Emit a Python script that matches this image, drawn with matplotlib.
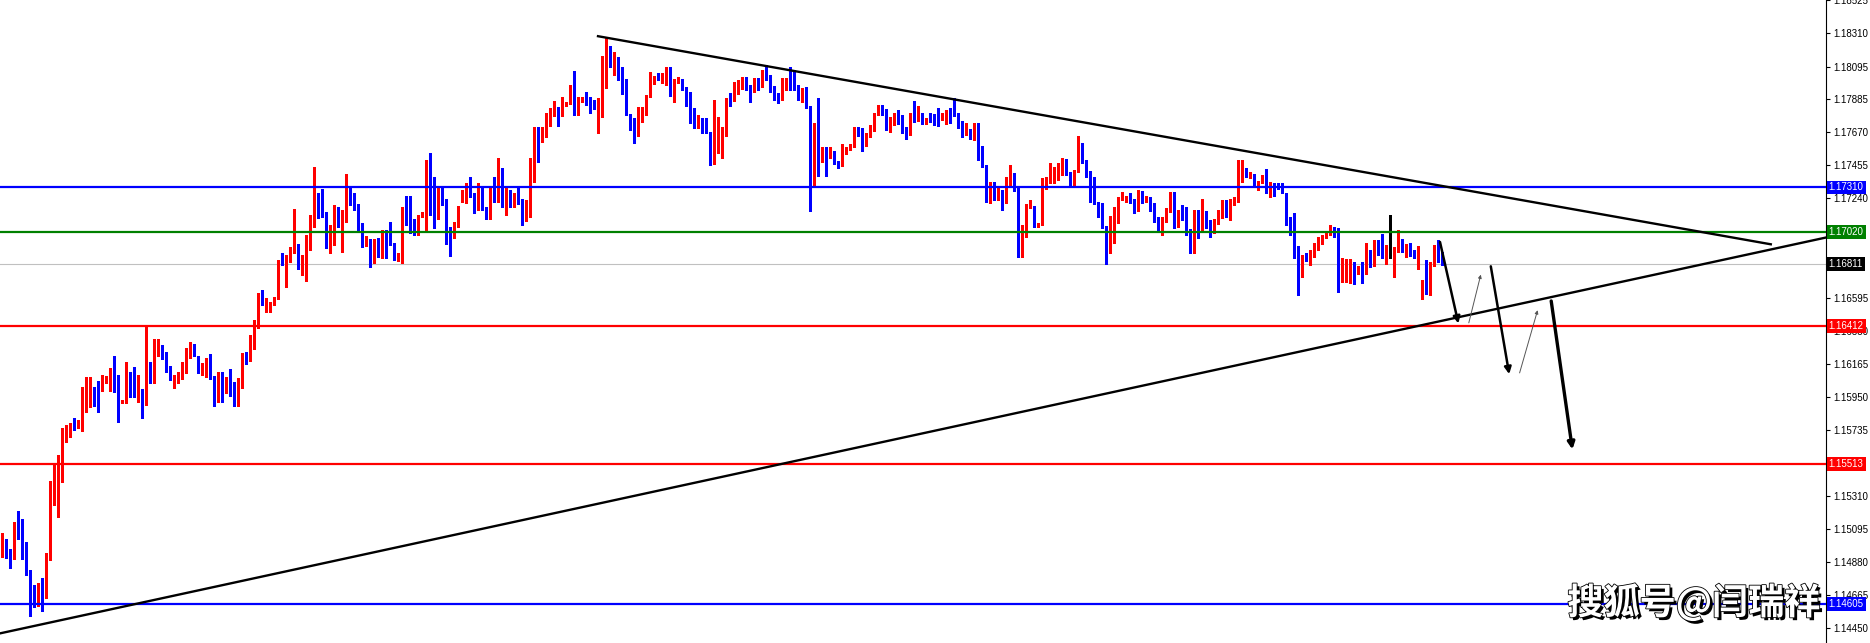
import numpy as np
import matplotlib
matplotlib.use('Agg')
import matplotlib.pyplot as plt
import matplotlib.patheffects as pe

# hourly OHLC bars (oldest first)
opens = [
    1.14910, 1.14995, 1.14936, 1.14897, 1.15131, 1.15072, 1.14975, 1.14806, 1.14709, 1.14612,
    1.14722, 1.14670, 1.14891, 1.15306, 1.15377, 1.15442, 1.15689, 1.15721, 1.15786, 1.15760,
    1.15760, 1.15929, 1.15948, 1.15987, 1.15987, 1.15987, 1.16046, 1.16052, 1.16104, 1.16046,
    1.15916, 1.15916, 1.16091, 1.16078, 1.15916, 1.16000, 1.15910, 1.16169, 1.16059, 1.16234,
    1.16254, 1.16234, 1.16117, 1.16007, 1.16059, 1.16065, 1.16111, 1.16234, 1.16280, 1.16195,
    1.16104, 1.16130, 1.16214, 1.16065, 1.15981, 1.16098, 1.15987, 1.16026, 1.15987, 1.15916,
    1.16007, 1.16202, 1.16182, 1.16293, 1.16416, 1.16604, 1.16572, 1.16539, 1.16546, 1.16585,
    1.16825, 1.16805, 1.16844, 1.16896, 1.16935, 1.16792, 1.16838, 1.16981, 1.17084, 1.17266,
    1.17240, 1.17143, 1.16935, 1.17058, 1.17175, 1.17071, 1.17156, 1.17286, 1.17240, 1.17195,
    1.17039, 1.16929, 1.16942, 1.16818, 1.16929, 1.16903, 1.17006, 1.16994, 1.16948, 1.16838,
    1.16883, 1.17188, 1.17143, 1.17097, 1.17078, 1.17123, 1.17130, 1.17461, 1.17272, 1.17175,
    1.17227, 1.17214, 1.17013, 1.16987, 1.17052, 1.17272, 1.17286, 1.17299, 1.17260, 1.17169,
    1.17195, 1.17182, 1.17104, 1.17292, 1.17247, 1.17422, 1.17182, 1.17286, 1.17182, 1.17240,
    1.17221, 1.17117, 1.17208, 1.17369, 1.17694, 1.17616, 1.17643, 1.17740, 1.17779, 1.17824,
    1.17779, 1.17843, 1.17856, 1.17966, 1.17791, 1.17863, 1.17888, 1.17856, 1.17843, 1.17791,
    1.17830, 1.18024, 1.18128, 1.18096, 1.18128, 1.18031, 1.18011, 1.17785, 1.17753, 1.17643,
    1.17798, 1.17791, 1.17895, 1.17986, 1.18024, 1.18011, 1.18037, 1.18070, 1.17921, 1.17998,
    1.17992, 1.17953, 1.17856, 1.17804, 1.17727, 1.17746, 1.17694, 1.17668, 1.17480, 1.17558,
    1.17590, 1.17649, 1.17888, 1.17876, 1.17947, 1.17986, 1.18011, 1.17966, 1.17940, 1.18011,
    1.17960, 1.18096, 1.18031, 1.17960, 1.17908, 1.17882, 1.17940, 1.18070, 1.18005, 1.17973,
    1.17908, 1.17921, 1.17830, 1.17369, 1.17720, 1.17512, 1.17564, 1.17506, 1.17538, 1.17480,
    1.17461, 1.17558, 1.17564, 1.17577, 1.17688, 1.17681, 1.17577, 1.17636, 1.17688, 1.17785,
    1.17837, 1.17798, 1.17681, 1.17720, 1.17772, 1.17772, 1.17694, 1.17649, 1.17791, 1.17746,
    1.17779, 1.17727, 1.17785, 1.17785, 1.17746, 1.17759, 1.17766, 1.17798, 1.17791, 1.17791,
    1.17707, 1.17662, 1.17681, 1.17623, 1.17707, 1.17558, 1.17448, 1.17227, 1.17331, 1.17247,
    1.17286, 1.17208, 1.17324, 1.17389, 1.17292, 1.16929, 1.17052, 1.17175, 1.17182, 1.17058,
    1.17065, 1.17337, 1.17344, 1.17356, 1.17369, 1.17402, 1.17441, 1.17402, 1.17337, 1.17415,
    1.17597, 1.17480, 1.17415, 1.17272, 1.17208, 1.17201, 1.17052, 1.16916, 1.17078, 1.17078,
    1.17227, 1.17227, 1.17247, 1.17227, 1.17162, 1.17279, 1.17227, 1.17240, 1.17195, 1.17110,
    1.17026, 1.17097, 1.17162, 1.17253, 1.17058, 1.17182, 1.17123, 1.17032, 1.16896, 1.17156,
    1.17026, 1.17143, 1.17084, 1.17019, 1.17084, 1.17117, 1.17182, 1.17149, 1.17208, 1.17227,
    1.17369, 1.17422, 1.17376, 1.17389, 1.17324, 1.17337, 1.17382, 1.17260, 1.17324, 1.17324,
    1.17305, 1.17272, 1.17110, 1.17019, 1.16922, 1.16792, 1.16864, 1.16838, 1.16864, 1.16922,
    1.16948, 1.16987, 1.17013, 1.17045, 1.17013, 1.16733, 1.16733, 1.16753, 1.16811, 1.16753,
    1.16773, 1.16753, 1.16890, 1.16805, 1.16942, 1.16929, 1.16877, 1.16870, 1.16870, 1.16903,
    1.16948, 1.16883, 1.16929, 1.16877, 1.16864, 1.16585, 1.16669, 1.16617, 1.16805, 1.16929,
    1.16870,
]
highs = [
    1.15066, 1.15027, 1.14962, 1.15137, 1.15209, 1.15157, 1.15008, 1.14826, 1.14729, 1.14742,
    1.14774, 1.14936, 1.15403, 1.15507, 1.15572, 1.15747, 1.15767, 1.15780, 1.15812, 1.15799,
    1.16013, 1.16078, 1.16078, 1.16013, 1.16052, 1.16091, 1.16085, 1.16137, 1.16214, 1.16091,
    1.15929, 1.16176, 1.16111, 1.16143, 1.16091, 1.16000, 1.16416, 1.16176, 1.16325, 1.16325,
    1.16286, 1.16241, 1.16150, 1.16091, 1.16111, 1.16176, 1.16267, 1.16306, 1.16293, 1.16214,
    1.16169, 1.16202, 1.16228, 1.16085, 1.16111, 1.16111, 1.16078, 1.16130, 1.16046, 1.16072,
    1.16234, 1.16241, 1.16351, 1.16448, 1.16624, 1.16643, 1.16591, 1.16565, 1.16598, 1.16838,
    1.16883, 1.16870, 1.16922, 1.17169, 1.16942, 1.16870, 1.17000, 1.17130, 1.17441, 1.17272,
    1.17299, 1.17149, 1.17065, 1.17195, 1.17182, 1.17162, 1.17396, 1.17311, 1.17272, 1.17201,
    1.17078, 1.16994, 1.16974, 1.16974, 1.16981, 1.17032, 1.17032, 1.17084, 1.16948, 1.16883,
    1.17182, 1.17253, 1.17253, 1.17104, 1.17130, 1.17149, 1.17487, 1.17532, 1.17376, 1.17305,
    1.17305, 1.17234, 1.17052, 1.17084, 1.17188, 1.17292, 1.17337, 1.17376, 1.17272, 1.17337,
    1.17305, 1.17182, 1.17305, 1.17376, 1.17500, 1.17435, 1.17305, 1.17292, 1.17272, 1.17305,
    1.17234, 1.17227, 1.17500, 1.17701, 1.17701, 1.17701, 1.17791, 1.17824, 1.17869, 1.17830,
    1.17895, 1.17863, 1.17973, 1.18063, 1.17895, 1.17895, 1.17927, 1.17895, 1.17876, 1.17888,
    1.18161, 1.18284, 1.18226, 1.18187, 1.18154, 1.18089, 1.18011, 1.17785, 1.17759, 1.17830,
    1.17830, 1.17908, 1.18057, 1.18031, 1.18050, 1.18050, 1.18089, 1.18089, 1.18011, 1.18024,
    1.18011, 1.17960, 1.17927, 1.17824, 1.17779, 1.17759, 1.17759, 1.17668, 1.17876, 1.17766,
    1.17701, 1.17888, 1.17921, 1.17992, 1.18005, 1.18024, 1.18024, 1.17973, 1.18018, 1.18018,
    1.18070, 1.18102, 1.18037, 1.17966, 1.17921, 1.18018, 1.18018, 1.18089, 1.18070, 1.17973,
    1.17953, 1.17960, 1.17837, 1.17727, 1.17888, 1.17571, 1.17571, 1.17571, 1.17545, 1.17480,
    1.17590, 1.17571, 1.17590, 1.17701, 1.17701, 1.17694, 1.17662, 1.17714, 1.17791, 1.17843,
    1.17843, 1.17817, 1.17766, 1.17791, 1.17811, 1.17779, 1.17701, 1.17791, 1.17869, 1.17837,
    1.17791, 1.17759, 1.17791, 1.17785, 1.17824, 1.17791, 1.17811, 1.17824, 1.17888, 1.17791,
    1.17740, 1.17727, 1.17688, 1.17727, 1.17727, 1.17577, 1.17454, 1.17344, 1.17344, 1.17311,
    1.17292, 1.17376, 1.17454, 1.17402, 1.17305, 1.17065, 1.17201, 1.17227, 1.17188, 1.17078,
    1.17369, 1.17376, 1.17467, 1.17441, 1.17467, 1.17500, 1.17493, 1.17408, 1.17421, 1.17643,
    1.17597, 1.17487, 1.17415, 1.17376, 1.17214, 1.17208, 1.17058, 1.17123, 1.17182, 1.17247,
    1.17279, 1.17253, 1.17272, 1.17234, 1.17292, 1.17286, 1.17253, 1.17247, 1.17208, 1.17117,
    1.17117, 1.17175, 1.17279, 1.17279, 1.17162, 1.17195, 1.17182, 1.17039, 1.17162, 1.17162,
    1.17234, 1.17156, 1.17097, 1.17104, 1.17162, 1.17227, 1.17227, 1.17234, 1.17247, 1.17487,
    1.17487, 1.17435, 1.17408, 1.17396, 1.17350, 1.17389, 1.17428, 1.17344, 1.17337, 1.17337,
    1.17337, 1.17272, 1.17117, 1.17143, 1.16929, 1.16870, 1.16883, 1.16903, 1.16948, 1.16987,
    1.17000, 1.17019, 1.17065, 1.17052, 1.17045, 1.16851, 1.16844, 1.16844, 1.16825, 1.16799,
    1.16825, 1.16948, 1.16903, 1.16968, 1.16968, 1.17006, 1.16935, 1.17130, 1.16922, 1.17032,
    1.16974, 1.16942, 1.16948, 1.16903, 1.16929, 1.16708, 1.16838, 1.16825, 1.16935, 1.16968,
    1.16890,
]
lows = [
    1.14910, 1.14904, 1.14839, 1.14897, 1.15027, 1.14897, 1.14793, 1.14527, 1.14586, 1.14592,
    1.14560, 1.14644, 1.14891, 1.15248, 1.15170, 1.15397, 1.15656, 1.15689, 1.15734, 1.15747,
    1.15728, 1.15851, 1.15884, 1.15890, 1.15851, 1.15987, 1.16039, 1.15987, 1.15981, 1.15786,
    1.15910, 1.15910, 1.15948, 1.15948, 1.15916, 1.15812, 1.15897, 1.16039, 1.16039, 1.16214,
    1.16195, 1.16111, 1.16059, 1.16007, 1.16039, 1.16065, 1.16104, 1.16202, 1.16214, 1.16104,
    1.16091, 1.16078, 1.16065, 1.15890, 1.15916, 1.15916, 1.15974, 1.15955, 1.15890, 1.15890,
    1.16007, 1.16163, 1.16182, 1.16260, 1.16396, 1.16546, 1.16500, 1.16500, 1.16546, 1.16585,
    1.16805, 1.16663, 1.16825, 1.16883, 1.16779, 1.16740, 1.16701, 1.16903, 1.17052, 1.17110,
    1.17117, 1.16916, 1.16883, 1.16935, 1.17052, 1.16890, 1.17084, 1.17195, 1.17162, 1.17019,
    1.16922, 1.16929, 1.16792, 1.16818, 1.16857, 1.16851, 1.16851, 1.16935, 1.16838, 1.16831,
    1.16818, 1.17065, 1.17013, 1.17000, 1.17000, 1.17117, 1.17032, 1.17130, 1.17045, 1.17104,
    1.17195, 1.16942, 1.16864, 1.16981, 1.17052, 1.17214, 1.17208, 1.17247, 1.17143, 1.17162,
    1.17162, 1.17104, 1.17104, 1.17214, 1.17214, 1.17182, 1.17130, 1.17182, 1.17182, 1.17201,
    1.17065, 1.17091, 1.17117, 1.17344, 1.17474, 1.17603, 1.17636, 1.17707, 1.17772, 1.17707,
    1.17772, 1.17837, 1.17850, 1.17779, 1.17779, 1.17863, 1.17843, 1.17791, 1.17817, 1.17662,
    1.17766, 1.17953, 1.18089, 1.18037, 1.18005, 1.17914, 1.17779, 1.17681, 1.17597, 1.17643,
    1.17733, 1.17779, 1.17895, 1.17979, 1.18005, 1.17986, 1.17973, 1.17901, 1.17863, 1.17986,
    1.17940, 1.17837, 1.17727, 1.17694, 1.17694, 1.17662, 1.17662, 1.17454, 1.17461, 1.17532,
    1.17500, 1.17643, 1.17837, 1.17869, 1.17914, 1.17947, 1.17940, 1.17863, 1.17927, 1.17940,
    1.17960, 1.18005, 1.17927, 1.17876, 1.17856, 1.17876, 1.17940, 1.17940, 1.17940, 1.17876,
    1.17863, 1.17824, 1.17156, 1.17324, 1.17382, 1.17474, 1.17382, 1.17500, 1.17461, 1.17435,
    1.17448, 1.17526, 1.17551, 1.17571, 1.17643, 1.17545, 1.17577, 1.17636, 1.17675, 1.17779,
    1.17779, 1.17681, 1.17668, 1.17714, 1.17720, 1.17662, 1.17623, 1.17649, 1.17733, 1.17740,
    1.17720, 1.17720, 1.17733, 1.17714, 1.17707, 1.17746, 1.17720, 1.17727, 1.17772, 1.17694,
    1.17636, 1.17649, 1.17623, 1.17616, 1.17487, 1.17441, 1.17214, 1.17208, 1.17227, 1.17227,
    1.17162, 1.17208, 1.17311, 1.17286, 1.16857, 1.16857, 1.16987, 1.17175, 1.17052, 1.17052,
    1.17065, 1.17299, 1.17337, 1.17337, 1.17356, 1.17389, 1.17389, 1.17324, 1.17324, 1.17408,
    1.17467, 1.17376, 1.17214, 1.17201, 1.17117, 1.17045, 1.16812, 1.16883, 1.16948, 1.17078,
    1.17227, 1.17214, 1.17208, 1.17143, 1.17156, 1.17208, 1.17214, 1.17156, 1.17084, 1.17019,
    1.17000, 1.17084, 1.17149, 1.17045, 1.17052, 1.17097, 1.17000, 1.16883, 1.16883, 1.16981,
    1.17026, 1.17045, 1.16987, 1.17013, 1.17071, 1.17110, 1.17117, 1.17097, 1.17195, 1.17214,
    1.17344, 1.17376, 1.17369, 1.17318, 1.17292, 1.17337, 1.17272, 1.17247, 1.17253, 1.17299,
    1.17272, 1.17065, 1.17000, 1.16851, 1.16611, 1.16727, 1.16831, 1.16805, 1.16857, 1.16903,
    1.16942, 1.16981, 1.17000, 1.16987, 1.16630, 1.16695, 1.16695, 1.16688, 1.16682, 1.16746,
    1.16688, 1.16746, 1.16792, 1.16799, 1.16870, 1.16851, 1.16812, 1.16851, 1.16727, 1.16890,
    1.16890, 1.16857, 1.16864, 1.16851, 1.16779, 1.16585, 1.16617, 1.16611, 1.16799, 1.16825,
    1.16805,
]
closes = [
    1.14995, 1.14936, 1.14897, 1.15131, 1.15072, 1.14975, 1.14806, 1.14709, 1.14612, 1.14722,
    1.14670, 1.14897, 1.15306, 1.15377, 1.15442, 1.15689, 1.15734, 1.15780, 1.15760, 1.15767,
    1.15929, 1.15981, 1.15994, 1.15897, 1.15910, 1.16052, 1.16052, 1.16104, 1.15994, 1.15916,
    1.15929, 1.16091, 1.15961, 1.15961, 1.16078, 1.15916, 1.16163, 1.16059, 1.16241, 1.16254,
    1.16228, 1.16117, 1.16078, 1.16065, 1.16078, 1.16130, 1.16247, 1.16280, 1.16228, 1.16104,
    1.16130, 1.16182, 1.16065, 1.15981, 1.16091, 1.16026, 1.16026, 1.15981, 1.15916, 1.16013,
    1.16202, 1.16182, 1.16293, 1.16429, 1.16604, 1.16572, 1.16585, 1.16559, 1.16591, 1.16825,
    1.16805, 1.16857, 1.16896, 1.16935, 1.16786, 1.16838, 1.16987, 1.17097, 1.17266, 1.17234,
    1.17136, 1.16935, 1.17058, 1.17162, 1.17071, 1.17162, 1.17286, 1.17234, 1.17201, 1.17032,
    1.16948, 1.16942, 1.16818, 1.16929, 1.16903, 1.17013, 1.16987, 1.16942, 1.16851, 1.16883,
    1.17182, 1.17130, 1.17078, 1.17078, 1.17130, 1.17130, 1.17461, 1.17272, 1.17130, 1.17227,
    1.17214, 1.17013, 1.16987, 1.17052, 1.17182, 1.17286, 1.17299, 1.17253, 1.17162, 1.17195,
    1.17175, 1.17104, 1.17292, 1.17247, 1.17422, 1.17182, 1.17286, 1.17188, 1.17240, 1.17214,
    1.17117, 1.17208, 1.17376, 1.17688, 1.17616, 1.17649, 1.17766, 1.17791, 1.17869, 1.17791,
    1.17850, 1.17856, 1.17966, 1.17785, 1.17869, 1.17888, 1.17856, 1.17843, 1.17830, 1.17830,
    1.18031, 1.18128, 1.18096, 1.18187, 1.18011, 1.18005, 1.17779, 1.17740, 1.17643, 1.17824,
    1.17824, 1.17901, 1.18044, 1.18024, 1.18011, 1.18037, 1.18070, 1.17921, 1.17998, 1.18005,
    1.17947, 1.17856, 1.17798, 1.17727, 1.17746, 1.17694, 1.17662, 1.17480, 1.17590, 1.17590,
    1.17662, 1.17882, 1.17876, 1.17947, 1.17992, 1.18011, 1.17966, 1.17934, 1.17992, 1.17966,
    1.18057, 1.18024, 1.17960, 1.17901, 1.17876, 1.18011, 1.18011, 1.18005, 1.17960, 1.17914,
    1.17921, 1.17830, 1.17369, 1.17720, 1.17512, 1.17558, 1.17506, 1.17532, 1.17467, 1.17461,
    1.17564, 1.17571, 1.17584, 1.17688, 1.17655, 1.17643, 1.17649, 1.17694, 1.17791, 1.17837,
    1.17791, 1.17688, 1.17727, 1.17772, 1.17733, 1.17675, 1.17649, 1.17791, 1.17766, 1.17779,
    1.17727, 1.17746, 1.17740, 1.17727, 1.17714, 1.17791, 1.17798, 1.17791, 1.17779, 1.17701,
    1.17662, 1.17681, 1.17629, 1.17707, 1.17545, 1.17441, 1.17227, 1.17337, 1.17260, 1.17286,
    1.17208, 1.17344, 1.17389, 1.17292, 1.16929, 1.17058, 1.17182, 1.17188, 1.17058, 1.17078,
    1.17344, 1.17356, 1.17428, 1.17408, 1.17435, 1.17487, 1.17396, 1.17331, 1.17415, 1.17597,
    1.17474, 1.17408, 1.17272, 1.17208, 1.17130, 1.17052, 1.16916, 1.17117, 1.17175, 1.17240,
    1.17240, 1.17247, 1.17214, 1.17149, 1.17279, 1.17214, 1.17240, 1.17162, 1.17097, 1.17032,
    1.17117, 1.17162, 1.17272, 1.17058, 1.17130, 1.17123, 1.17013, 1.16890, 1.17149, 1.17000,
    1.17182, 1.17052, 1.17019, 1.17084, 1.17130, 1.17182, 1.17149, 1.17214, 1.17240, 1.17369,
    1.17422, 1.17389, 1.17396, 1.17324, 1.17344, 1.17382, 1.17318, 1.17324, 1.17272, 1.17305,
    1.17272, 1.17104, 1.17019, 1.16916, 1.16792, 1.16864, 1.16838, 1.16883, 1.16922, 1.16981,
    1.16994, 1.17013, 1.17045, 1.17019, 1.16733, 1.16746, 1.16811, 1.16811, 1.16746, 1.16786,
    1.16753, 1.16890, 1.16805, 1.16948, 1.16922, 1.16870, 1.16916, 1.16870, 1.16909, 1.16955,
    1.16903, 1.16922, 1.16870, 1.16864, 1.16922, 1.16669, 1.16617, 1.16818, 1.16929, 1.16831,
    1.16811,
]

# horizontal levels drawn on the chart
level_prices = [1.17310, 1.17020, 1.16811, 1.16412, 1.15513, 1.14605]
level_colors = ['#0000ff', '#008000', '#c0c0c0', '#ff0000', '#ff0000', '#0000ff']
label_colors = ['#0000ff', '#008000', '#000000', '#ff0000', '#ff0000', '#0000ff']

# trend lines: (bar index, price) end points
upper_bars = [149, 442.2]
upper_prices = [1.18292, 1.16941]
lower_bars = [-0.5, 456]
lower_prices = [1.14415, 1.16985]

# projected path, one segment per arrow
path_bar0 = [359.5, 366.7, 372.2, 379.4, 387.3]
path_price0 = [1.16956, 1.16431, 1.16798, 1.16106, 1.16573]
path_bar1 = [364.1, 369.7, 376.8, 383.9, 392.6]
path_price1 = [1.16427, 1.16744, 1.16098, 1.16513, 1.15609]
path_down = [True, False, True, False, True]

# price scale (labels that sit under a price tag are not shown)
tick_values = [1.18525, 1.18310, 1.18095, 1.17885, 1.17670, 1.17455, 1.17240,
               1.16595, 1.16380, 1.16165, 1.15950, 1.15735, 1.15310,
               1.15095, 1.14880, 1.14665, 1.14450]

plt.rcParams['font.family'] = ['Liberation Sans', 'DejaVu Sans']

fig = plt.figure(figsize=(18.7, 6.43), dpi=100)
ax = fig.add_axes([0, 0, 1826 / 1870, 1])

o = np.array(opens)
h = np.array(highs)
l = np.array(lows)
c = np.array(closes)
x = np.arange(len(o))
cols = np.where(c > o, '#ff0000', np.where(c < o, '#0000ff', '#000000'))

# levels behind / in front of candles
ax.axhline(level_prices[2], color=level_colors[2], lw=0.8, zorder=1)
for p, col in zip(level_prices, level_colors):
    if col != '#c0c0c0':
        ax.axhline(p, color=col, lw=1.6, zorder=4)

ax.vlines(x, l, h, colors=cols, lw=0.75, zorder=2, antialiased=False)
body = np.maximum(np.abs(c - o), 0.00006)
ax.bar(x, body, bottom=np.minimum(o, c), width=0.75, color=cols, linewidth=0,
       zorder=3, antialiased=False)

ax.plot(upper_bars, upper_prices, color='black', lw=1.7, zorder=5)
ax.plot(lower_bars, lower_prices, color='black', lw=1.7, zorder=5)

for b0, p0, b1, p1, down in zip(path_bar0, path_price0, path_bar1, path_price1, path_down):
    if down:
        props = dict(arrowstyle='-|>', color='black', lw=1.8 if p1 > 1.16 else 2.4,
                     mutation_scale=10, shrinkA=0, shrinkB=0)
    else:
        props = dict(arrowstyle='-|>', color='#555555', lw=0.7,
                     mutation_scale=5, shrinkA=0, shrinkB=0)
    ax.annotate('', xy=(b1, p1), xytext=(b0, p0), arrowprops=props, zorder=6)

ax.set_xlim(-0.5, 456)
ax.set_ylim(1.143525, 1.18527)

for s in ['top', 'bottom', 'left']:
    ax.spines[s].set_visible(False)
ax.spines['right'].set_linewidth(0.8)
ax.set_xticks([])
ax.yaxis.tick_right()
ax.set_yticks(tick_values)
ax.set_yticklabels(['%.5f' % v for v in tick_values])
ax.tick_params(axis='y', direction='out', length=3, width=0.8, pad=2, labelsize=7)

# price tags on the scale
for p, col in zip(level_prices, label_colors):
    ax.text(1.0015, p, '%.5f' % p, transform=ax.get_yaxis_transform(), ha='left',
            va='center', fontsize=7, color='white', zorder=10, clip_on=False,
            bbox=dict(boxstyle='square,pad=0.2', fc=col, ec='none'))

ax.text(0.9277, 0.062, '搜狐号@闫瑞祥', transform=ax.transAxes, ha='center', va='center',
        fontsize=26, fontweight='bold', color='white', zorder=8,
        family=['Noto Sans CJK SC', 'DejaVu Sans'],
        path_effects=[pe.SimplePatchShadow(offset=(2, -2), shadow_rgbFace='black', alpha=1.0),
                      pe.Stroke(linewidth=1.2, foreground='black'), pe.Normal()])

fig.savefig('out.png', dpi=100)
